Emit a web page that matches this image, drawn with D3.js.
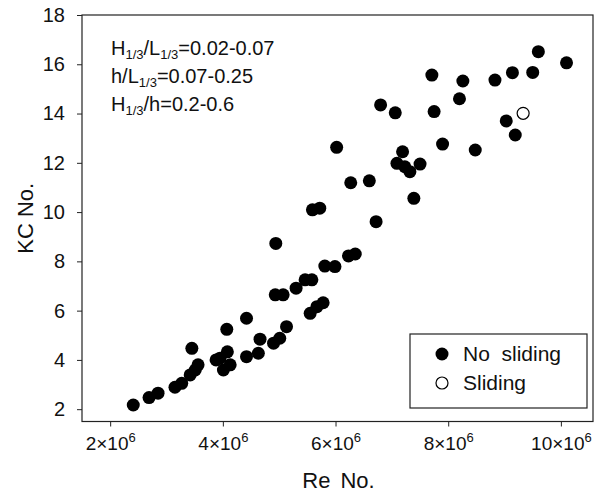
<!DOCTYPE html>
<html>
<head>
<meta charset="utf-8">
<script src="https://cdn.jsdelivr.net/npm/d3@7"></script>
<style>
body { margin: 0; background: #fff; }
text { font-family: "Liberation Sans", Arial, sans-serif; fill: #111; }
</style>
</head>
<body>
<div id="chart-area"></div>
<script>
// Re number in units of 1e6, KC number
var reNoSliding = [2.41, 2.69, 2.85, 3.15, 3.27, 3.42, 3.51, 3.56, 3.45, 3.88, 3.95, 4.08, 4.13, 4.01,
    4.07, 4.42, 4.42, 4.63, 4.66, 4.90, 5.01, 5.13, 4.93, 5.07, 5.30, 5.46, 5.58, 5.55, 5.67, 5.78,
    5.81, 5.99, 4.94, 5.59, 5.72, 6.27, 6.60, 6.72, 6.23, 6.35, 6.02, 6.80, 7.06, 7.71, 7.75, 7.90,
    7.19, 7.09, 7.23, 7.32, 7.50, 7.39, 9.60, 10.10, 8.26, 8.83, 9.14, 9.50, 8.20, 9.03, 9.19, 8.48];
var kcNoSliding = [2.17, 2.47, 2.65, 2.89, 3.05, 3.39, 3.59, 3.80, 4.47, 4.00, 4.07, 4.33, 3.80, 3.59,
    5.24, 5.69, 4.13, 4.27, 4.84, 4.68, 4.88, 5.35, 6.64, 6.64, 6.91, 7.25, 7.25, 5.89, 6.16, 6.32,
    7.81, 7.79, 8.73, 10.09, 10.16, 11.19, 11.27, 9.61, 8.22, 8.30, 12.63, 14.35, 14.03, 15.56, 14.08, 12.76,
    12.45, 11.98, 11.84, 11.64, 11.95, 10.56, 16.51, 16.06, 15.32, 15.36, 15.66, 15.67, 14.60, 13.70, 13.13, 12.52];
var reSliding = [9.33];
var kcSliding = [14.01];

var xTicks = [2, 4, 6, 8, 10];
var yTicks = [2, 4, 6, 8, 10, 12, 14, 16, 18];
var notes = [
    [["H", ""], ["1/3", "sub"], ["/L", ""], ["1/3", "sub"], ["=0.02-0.07", ""]],
    [["h/L", ""], ["1/3", "sub"], ["=0.07-0.25", ""]],
    [["H", ""], ["1/3", "sub"], ["/h=0.2-0.6", ""]]
];
var legendLabels = ["No  sliding", "Sliding"];

var W = 606, H = 494;
var plot = { left: 82, right: 593, top: 15, bottom: 421.5 };

var svg = d3.select("#chart-area").append("svg")
    .attr("width", W).attr("height", H);

var x = d3.scaleLinear().domain([1.5, 10.57]).range([plot.left, plot.right]);
var y = d3.scaleLinear().domain([1.5, 18]).range([plot.bottom, plot.top]);

// frame
svg.append("rect")
    .attr("x", plot.left).attr("y", plot.top)
    .attr("width", plot.right - plot.left).attr("height", plot.bottom - plot.top)
    .attr("fill", "none").attr("stroke", "#222").attr("stroke-width", 1.2);

var xAxis = svg.append("g")
    .attr("transform", "translate(0," + plot.bottom + ")")
    .call(d3.axisBottom(x).tickValues(xTicks).tickSize(5).tickFormat(""));
var yAxis = svg.append("g")
    .attr("transform", "translate(" + plot.left + ",0)")
    .call(d3.axisLeft(y).tickValues(yTicks).tickSize(5).tickPadding(12));

[xAxis, yAxis].forEach(function (a) {
    a.select(".domain").remove();
    a.selectAll("line").attr("stroke", "#222");
});
yAxis.selectAll("text").attr("font-size", "20px").attr("fill", "#111");

// x tick labels like 2x10^6
xAxis.selectAll(".tick").append("text")
    .attr("y", 28).attr("text-anchor", "middle")
    .attr("font-size", "19px").attr("fill", "#111")
    .each(function (d) {
        var t = d3.select(this);
        t.append("tspan").text(d + "\u00d710");
        t.append("tspan").attr("dy", -8).attr("font-size", "13px").text("6");
    });

// axis titles
svg.append("text")
    .attr("x", (plot.left + plot.right) / 2 + 1).attr("y", 488)
    .attr("text-anchor", "middle").attr("font-size", "22px")
    .attr("word-spacing", "4px")
    .text("Re No.");
svg.append("text")
    .attr("transform", "translate(33," + ((plot.top + plot.bottom) / 2) + ") rotate(-90)")
    .attr("text-anchor", "middle").attr("font-size", "22px")
    .text("KC No.");

// annotation
notes.forEach(function (line, i) {
    var t = svg.append("text")
        .attr("x", 111).attr("y", 55 + i * 28)
        .attr("font-size", "20px");
    line.forEach(function (p) {
        var s = t.append("tspan").text(p[0]);
        if (p[1] == "sub") s.attr("font-size", "13px").attr("baseline-shift", "-4");
    });
});

// points
var noSliding = reNoSliding.map(function (r, i) { return { re: r, kc: kcNoSliding[i] }; });
var sliding = reSliding.map(function (r, i) { return { re: r, kc: kcSliding[i] }; });

svg.selectAll("circle.ns")
    .data(noSliding)
    .enter().append("circle")
    .attr("class", "ns")
    .attr("cx", function (d) { return x(d.re); })
    .attr("cy", function (d) { return y(d.kc); })
    .attr("r", 6.5)
    .attr("fill", "#000");

svg.selectAll("circle.s")
    .data(sliding)
    .enter().append("circle")
    .attr("class", "s")
    .attr("cx", function (d) { return x(d.re); })
    .attr("cy", function (d) { return y(d.kc); })
    .attr("r", 6)
    .attr("fill", "#fff").attr("stroke", "#000").attr("stroke-width", 1.2);

// legend
var lg = svg.append("g").attr("transform", "translate(410,334)");
lg.append("rect")
    .attr("width", 177).attr("height", 74)
    .attr("fill", "#fff").attr("stroke", "#222").attr("stroke-width", 1.2);
legendLabels.forEach(function (lab, i) {
    var cy = 20 + i * 29;
    lg.append("circle")
        .attr("cx", 32).attr("cy", cy).attr("r", i == 0 ? 6.5 : 6)
        .attr("fill", i == 0 ? "#000" : "#fff")
        .attr("stroke", "#000").attr("stroke-width", i == 0 ? 0 : 1.2);
    lg.append("text")
        .attr("x", 53).attr("y", cy + 7)
        .attr("font-size", "21px")
        .style("white-space", "pre")
        .text(lab);
});
</script>
</body>
</html>
